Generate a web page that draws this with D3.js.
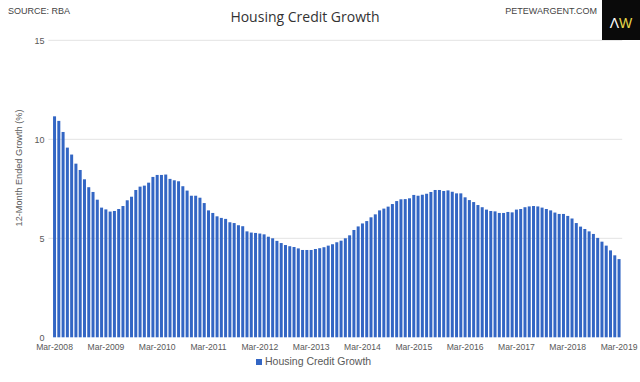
<!DOCTYPE html>
<html>
<head>
<meta charset="utf-8">
<script src="https://cdn.jsdelivr.net/npm/d3@7.9.0/dist/d3.min.js"></script>
<style>
  html, body { margin: 0; padding: 0; background: #fff; }
  svg { display: block; }
</style>
</head>
<body>
<svg id="chart" width="640" height="382"></svg>
<script>
/* ──── data ──── */
const seriesName = 'Housing Credit Growth';
const firstMonth = new Date(2008, 2, 1);   // Mar-2008
const growth = [
  11.16, 10.93, 10.37, 9.58, 9.23, 8.77, 8.45, 7.98, 7.58, 7.34, 6.95, 6.55,
  6.46, 6.35, 6.38, 6.48, 6.63, 6.92, 7.10, 7.44, 7.61, 7.66, 7.81, 8.10,
  8.20, 8.20, 8.22, 8.00, 7.93, 7.88, 7.63, 7.41, 7.15, 7.15, 7.05, 6.78,
  6.41, 6.28, 6.11, 6.03, 5.98, 5.81, 5.77, 5.66, 5.61, 5.35, 5.29, 5.27,
  5.24, 5.20, 5.08, 5.00, 4.87, 4.76, 4.66, 4.60, 4.56, 4.49, 4.41, 4.41,
  4.41, 4.46, 4.50, 4.55, 4.63, 4.70, 4.80, 4.88, 5.00, 5.15, 5.42, 5.60,
  5.75, 5.87, 6.06, 6.21, 6.41, 6.50, 6.60, 6.73, 6.88, 6.97, 6.98, 7.02,
  7.19, 7.15, 7.20, 7.25, 7.34, 7.44, 7.44, 7.39, 7.42, 7.35, 7.27, 7.27,
  7.07, 6.93, 6.83, 6.68, 6.57, 6.45, 6.38, 6.36, 6.28, 6.28, 6.33, 6.31,
  6.45, 6.48, 6.57, 6.61, 6.63, 6.61, 6.55, 6.48, 6.41, 6.30, 6.23, 6.23,
  6.13, 6.00, 5.77, 5.59, 5.47, 5.35, 5.22, 5.02, 4.83, 4.63, 4.39, 4.14,
  3.95
];
const yTicks = [0, 5, 10, 15];
const xTickLabels = ['Mar-2008', 'Mar-2009', 'Mar-2010', 'Mar-2011', 'Mar-2012', 'Mar-2013',
                     'Mar-2014', 'Mar-2015', 'Mar-2016', 'Mar-2017', 'Mar-2018', 'Mar-2019'];

const fmt = d3.timeFormat('%b-%Y');
const rows = growth.map((v, i) => ({
  label: fmt(d3.timeMonth.offset(firstMonth, i)),
  value: v
}));

/* ──── layout ──── */
const svg = d3.select('#chart');
const plot = { left: 52.4, right: 621.2, top: 40.3, bottom: 337.3 };
const textGrey = '#595959';
const axisFont = '"Liberation Sans", Arial, sans-serif';

const x = d3.scaleBand()
  .domain(rows.map(d => d.label))
  .range([plot.left, plot.right])
  .paddingInner(0.3)
  .paddingOuter(0.15);

const y = d3.scaleLinear()
  .domain([0, 15])
  .range([plot.bottom, plot.top]);

/* gridlines */
svg.append('g')
  .selectAll('line')
  .data(yTicks.filter(t => t > 0))
  .join('line')
  .attr('x1', plot.left - 4)
  .attr('x2', plot.right + 1)
  .attr('y1', d => y(d))
  .attr('y2', d => y(d))
  .attr('stroke', '#e3e3e3')
  .attr('stroke-width', 1);

/* y axis labels */
const yAxis = svg.append('g')
  .attr('transform', `translate(${plot.left - 8},0)`)
  .call(d3.axisLeft(y).tickValues(yTicks).tickSize(0).tickPadding(0));
yAxis.select('.domain').remove();
yAxis.selectAll('text')
  .attr('fill', textGrey)
  .style('font-family', axisFont)
  .style('font-size', '9px');

/* bars */
svg.append('g')
  .selectAll('rect')
  .data(rows)
  .join('rect')
  .attr('x', d => x(d.label))
  .attr('width', x.bandwidth())
  .attr('y', d => y(d.value))
  .attr('height', d => y(0) - y(d.value))
  .attr('fill', '#3366c4');

/* x axis */
const xAxis = svg.append('g')
  .attr('transform', `translate(0,${plot.bottom})`)
  .call(d3.axisBottom(x).tickValues(xTickLabels).tickSize(0).tickPadding(7));
xAxis.select('.domain').remove();
xAxis.selectAll('text')
  .attr('fill', textGrey)
  .style('font-family', axisFont)
  .style('font-size', '8.6px');

/* y axis title */
svg.append('text')
  .attr('transform', 'translate(22,168) rotate(-90)')
  .attr('text-anchor', 'middle')
  .attr('fill', textGrey)
  .style('font-family', axisFont)
  .style('font-size', '9.2px')
  .text('12-Month Ended Growth (%)');

/* title + header */
svg.append('text')
  .attr('x', 305).attr('y', 22)
  .attr('text-anchor', 'middle')
  .attr('fill', '#333')
  .style('font-family', '"Open Sans", "Noto Sans", sans-serif')
  .style('font-size', '14px')
  .text(seriesName);

svg.append('text')
  .attr('x', 8).attr('y', 14)
  .attr('fill', '#444')
  .style('font-family', axisFont)
  .style('font-size', '9px')
  .text('SOURCE: RBA');

svg.append('text')
  .attr('x', 597).attr('y', 14)
  .attr('text-anchor', 'end')
  .attr('fill', '#444')
  .style('font-family', axisFont)
  .style('font-size', '9px')
  .text('PETEWARGENT.COM');

/* logo box */
svg.append('rect')
  .attr('x', 602).attr('y', 0)
  .attr('width', 38).attr('height', 40)
  .attr('fill', '#0a0a0a');
const logo = svg.append('text')
  .attr('x', 621).attr('y', 28)
  .attr('text-anchor', 'middle')
  .style('font-family', axisFont)
  .style('font-size', '14px');
logo.append('tspan').attr('fill', '#ffffff').text('\u039B');
logo.append('tspan').attr('fill', '#e6d84a').text('W');

/* legend */
const legend = svg.append('g').attr('transform', 'translate(256,365)');
legend.append('rect')
  .attr('x', 0).attr('y', -6)
  .attr('width', 6).attr('height', 6)
  .attr('fill', '#3366c4');
legend.append('text')
  .attr('x', 9).attr('y', 0)
  .attr('fill', textGrey)
  .style('font-family', axisFont)
  .style('font-size', '10.5px')
  .text(seriesName);
</script>
</body>
</html>
